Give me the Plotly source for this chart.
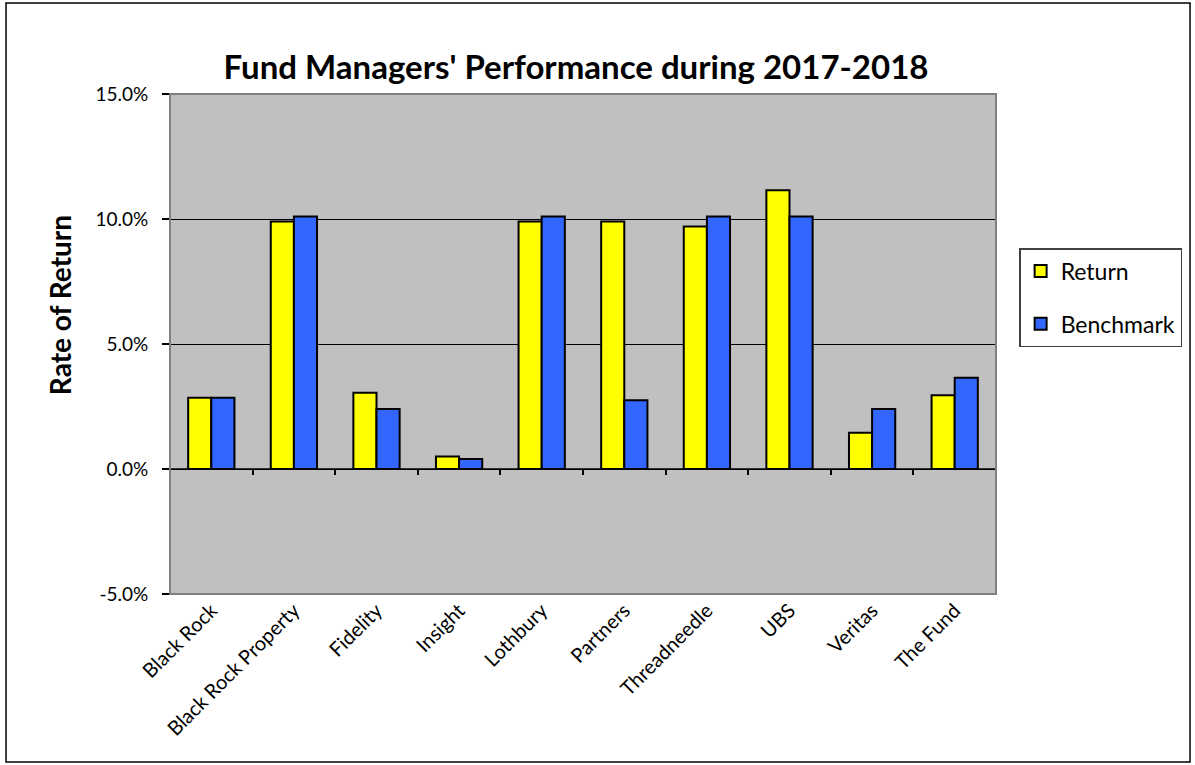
import plotly.graph_objects as go

# data (percent)
managers = ["Black Rock", "Black Rock Property", "Fidelity", "Insight", "Lothbury",
            "Partners", "Threadneedle", "UBS", "Veritas", "The Fund"]
returns = [2.85, 9.9, 3.05, 0.5, 9.9, 9.9, 9.7, 11.15, 1.45, 2.95]
benchmark = [2.85, 10.1, 2.4, 0.4, 10.1, 2.75, 10.1, 10.1, 2.4, 3.65]
y_ticks = [-5, 0, 5, 10, 15]
y_tick_labels = ["-5.0%", "0.0%", "5.0%", "10.0%", "15.0%"]

FONT = "Lato, 'Open Sans', sans-serif"

fig = go.Figure()
fig.add_trace(go.Bar(x=managers, y=returns, name="Return", legendgroup="r",
                     marker=dict(color="#FFFF00", line=dict(color="black", width=2))))
fig.add_trace(go.Bar(x=managers, y=benchmark, name="Benchmark", legendgroup="b",
                     marker=dict(color="#3366FF", line=dict(color="black", width=2))))

# Excel-style category ticks on the zero line
boundaries = [i + 0.5 for i in range(-1, len(managers))]
fig.add_trace(go.Scatter(x=[-0.5, len(managers) - 0.5], y=[0, 0], xaxis="x2",
                         mode="lines", line=dict(color="black", width=1.5),
                         hoverinfo="skip", showlegend=False))

fig.update_layout(
    width=1195, height=765,
    margin=dict(l=170, r=199, t=94, b=171),
    paper_bgcolor="white",
    plot_bgcolor="#C0C0C0",
    font=dict(family=FONT, color="black", size=18),
    title=dict(text="<b>Fund Managers' Performance during 2017-2018</b>",
               x=0.482, xanchor="center", y=0.912, yanchor="middle",
               font=dict(size=33, family=FONT)),
    barmode="group", bargap=0.44, bargroupgap=0,
    xaxis=dict(type="category", tickangle=-45, ticks="", showgrid=False,
               showline=False, zeroline=False, tickfont=dict(size=20)),
    xaxis2=dict(overlaying="x", anchor="free", position=0.252, range=[-0.5, len(managers) - 0.5],
                tickvals=boundaries, ticks="outside", ticklen=6, tickwidth=1.5,
                tickcolor="black", showticklabels=False, showgrid=False, zeroline=False,
                showline=False),
    yaxis=dict(range=[-5, 15], tickvals=y_ticks, ticktext=y_tick_labels,
               showgrid=True, gridcolor="black", gridwidth=1.2,
               zeroline=False, showline=False, ticks="outside", ticklen=7,
               ticklabelstandoff=10,
               tickcolor="black", tickwidth=1.5, tickfont=dict(size=19)),
    legend=dict(x=1.028, xanchor="left", y=0.692, yanchor="top",
                bordercolor="#404040", borderwidth=1.5, bgcolor="white",
                font=dict(size=23), tracegroupgap=20, traceorder="grouped"),
    annotations=[
        dict(text="<b>Rate of Return</b>", xref="paper", yref="paper",
             x=-0.133, y=0.578, xanchor="center", yanchor="middle",
             textangle=-90, showarrow=False, font=dict(size=28)),
    ],
    shapes=[
        # plot area border
        dict(type="rect", xref="paper", yref="paper", x0=0, x1=1, y0=0, y1=1,
             line=dict(color="#808080", width=2), layer="above"),
        # outer chart frame
        dict(type="rect", xref="paper", yref="paper", x0=-0.1985, x1=1.2349,
             y0=-0.336, y1=1.182, line=dict(color="black", width=1.5)),
    ],
)

fig.write_html("out.html", config={"displayModeBar": False},
               post_script="document.body.style.margin='0';")
